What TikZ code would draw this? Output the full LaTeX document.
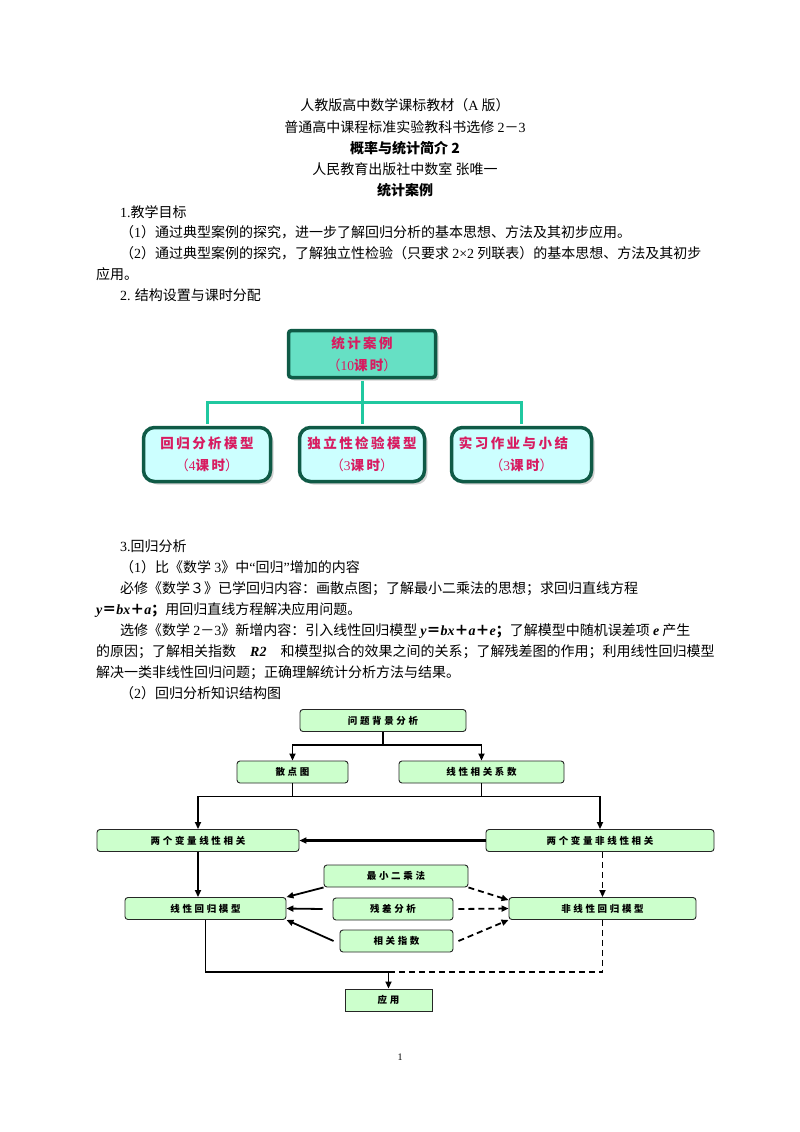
\documentclass[tikz,border=0pt]{standalone}
\usepackage{fontspec}
\setmainfont{Liberation Serif}
\newfontfamily\cjk{Noto Sans CJK SC}
\newfontfamily\cjkhead[LetterSpace=18]{Noto Sans CJK SC}
\newfontfamily\cjkflow[LetterSpace=28]{Noto Sans CJK SC}
\usetikzlibrary{arrows.meta,shadows}

\definecolor{headfill}{HTML}{66E0C4}
\definecolor{partfill}{HTML}{CCFFFF}
\definecolor{boxrim}{HTML}{0F5A46}
\definecolor{treeline}{HTML}{20C8A0}
\definecolor{pinktext}{HTML}{D81B60}
\definecolor{flowfill}{HTML}{CCFFCC}

\newcommand{\lat}[1]{{\rmfamily #1}}
\newcommand{\bv}[1]{{\rmfamily\bfseries\itshape #1}}

\begin{document}
\begin{tikzpicture}[x=1pt,y=-1pt,
    body/.style={anchor=base west, inner sep=0pt, font=\cjk\fontsize{14}{16}\selectfont},
    title/.style={body, anchor=base},
    headbox/.style={draw=boxrim, line width=3.5pt, fill=headfill, rounded corners=3pt,
      minimum width=147pt, minimum height=47pt, align=center, text=pinktext,
      font=\cjkhead\bfseries\fontsize{13.5}{22}\selectfont,
      drop shadow={shadow xshift=3pt, shadow yshift=-3pt, fill=black!35}},
    partbox/.style={headbox, fill=partfill, rounded corners=11pt, minimum width=125pt, minimum height=54pt},
    tree/.style={draw=treeline, line width=3pt, shorten <=1.7pt, shorten >=1.7pt},
    flow/.style={draw=black!85, line width=0.9pt, fill=flowfill, rounded corners=3pt,
      minimum height=22pt, inner sep=0pt, font=\cjkflow\bfseries\fontsize{9.5}{11}\selectfont},
    link/.style={line width=1.8pt},
    arr/.style={link, -{Triangle[length=7pt,width=6pt]}},
    darr/.style={arr, dash pattern=on 6pt off 4pt}
  ]
        % Page
        \fill[white] (0,0) rectangle (800,1132);
        \useasboundingbox (0,0) rectangle (800,1132);

        % Heading lines
        \node[title] (h1) at (405,110) {人教版高中数学课标教材（\lat{A} 版）};
        \node[title] (h2) at (405,132) {普通高中课程标准实验教科书选修 \lat{2}－\lat{3}};
        \node[title, font=\cjk\bfseries\fontsize{14}{16}\selectfont] (h3) at (405,153) {概率与统计简介 2};
        \node[title] (h4) at (405,174) {人民教育出版社中数室 张唯一};
        \node[title, font=\cjk\bfseries\fontsize{14}{16}\selectfont] (h5) at (405,195) {统计案例};

        % Teaching goals
        \node[body] (p1) at (120,217) {\lat{1.}教学目标};
        \node[body] (p2) at (120,237) {（\lat{1}）通过典型案例的探究，进一步了解回归分析的基本思想、方法及其初步应用。};
        \node[body] (p3) at (120,258) {（\lat{2}）通过典型案例的探究，了解独立性检验（只要求 \lat{2×2} 列联表）的基本思想、方法及其初步};
        \node[body] (p4) at (96,279) {应用。};
        \node[body] (p5) at (120,300) {\lat{2.} 结构设置与课时分配};

        % Lesson tree
        \node[headbox] (case) at (362,354) {统计案例\\{\mdseries（}{\rmfamily\mdseries 10}课时{\mdseries ）}};
        \node[partbox, minimum width=127pt] (reg) at (207,454.5) {回归分析模型\\{\mdseries（}{\rmfamily\mdseries 4}课时{\mdseries ）}};
        \node[partbox] (ind) at (362,454.5) {独立性检验模型\\{\mdseries（}{\rmfamily\mdseries 3}课时{\mdseries ）}};
        \node[partbox, minimum width=140pt] (prac) at (521.5,454.5) {实习作业与小结\hspace*{16pt}\\{\mdseries（}{\rmfamily\mdseries 3}课时{\mdseries ）}};

        \draw[tree] (case.south) -- (ind.north);
        \draw[tree] (reg.north) |- ([yshift=-23pt]case.south) -| (prac.north);

        % Regression text
        \node[body] (q1) at (120,551) {\lat{3.}回归分析};
        \node[body] (q2) at (120,572) {（\lat{1}）比《数学 \lat{3}》中\lat{“}回归\lat{”}增加的内容};
        \node[body] (q3) at (120,593) {必修《数学３》已学回归内容：画散点图；了解最小二乘法的思想；求回归直线方程};
        \node[body] (q4) at (96,614) {\bv{y}{\bfseries ＝}\bv{bx}{\bfseries ＋}\bv{a}{\bfseries ；}用回归直线方程解决应用问题。};
        \node[body] (q5) at (120,635) {选修《数学 \lat{2}－\lat{3}》新增内容：引入线性回归模型 \bv{y}{\bfseries ＝}\bv{bx}{\bfseries ＋}\bv{a}{\bfseries ＋}\bv{e}{\bfseries ；}了解模型中随机误差项 \bv{e} 产生};
        \node[body] (q6) at (96,656) {的原因；了解相关指数　\bv{R2}　和模型拟合的效果之间的关系；了解残差图的作用；利用线性回归模型};
        \node[body] (q7) at (96,677) {解决一类非线性回归问题；正确理解统计分析方法与结果。};
        \node[body] (q8) at (120,698) {（\lat{2}）回归分析知识结构图};

        % Flow chart boxes
        \node[flow, minimum width=166pt] (bg) at (383,720.5) {问题背景分析};
        \node[flow, minimum width=111pt] (sd) at (292.5,772) {散点图};
        \node[flow, minimum width=165pt] (xs) at (481.5,772) {线性相关系数};
        \node[flow, minimum width=202pt] (lin) at (198,840.5) {两个变量线性相关};
        \node[flow, minimum width=228pt] (nlin) at (600,840.5) {两个变量非线性相关};
        \node[flow, minimum width=144pt] (ls) at (396,876) {最小二乘法};
        \node[flow, minimum width=120pt] (res) at (393,909) {残差分析};
        \node[flow, minimum width=113pt] (cor) at (396.5,941) {相关指数};
        \node[flow, minimum width=161pt] (lm) at (205.5,908.5) {线性回归模型};
        \node[flow, minimum width=187pt] (nm) at (602.5,908.5) {非线性回归模型};
        \node[flow, sharp corners, minimum width=87pt] (app) at (388.5,1000) {应用};

        % Splits
        \draw[link] (bg.south) -- ++(0,13);
        \draw[arr] ([yshift=-13pt]bg.south) -| (sd.north);
        \draw[arr] ([yshift=-13pt]bg.south) -| (xs.north);
        \draw[link] (sd.south) -- ++(0,13) -- ([yshift=-13pt]xs.south) -- (xs.south);
        \draw[arr] ([yshift=-13pt]sd.south) -| (lin.north);
        \draw[arr] ([yshift=-13pt]xs.south) -| (nlin.north);
        \draw[arr, line width=2.4pt] (nlin.west) -- (lin.east);

        % Down to the models
        \draw[arr] (lin.south) -- (lin.south |- lm.north);
        \draw[darr] (nlin.south -| nm.north) -- (nm.north);

        % Methods
        \draw[arr] (ls.south west) -- (lm.north east);
        \draw[arr] ([xshift=-10pt]res.west) -- (lm.east);
        \draw[arr] ([xshift=-6pt]cor.west) -- (lm.south east);
        \draw[darr] (ls.south east) -- ([yshift=-3pt]nm.north west);
        \draw[darr] ([xshift=5pt]res.east) -- (nm.west);
        \draw[darr] ([xshift=5pt]cor.east) -- (nm.south west);

        % Application
        \coordinate (join) at (388.5,972);
        \draw[link] (lm.south) |- (join);
        \draw[link, dash pattern=on 6pt off 4pt] (nm.south) |- (join);
        \draw[arr] (join) -- (app.north);

        % Page number
        \node[font=\rmfamily\fontsize{10}{12}\selectfont] (pg) at (400,1057) {1};
\end{tikzpicture}
\end{document}
